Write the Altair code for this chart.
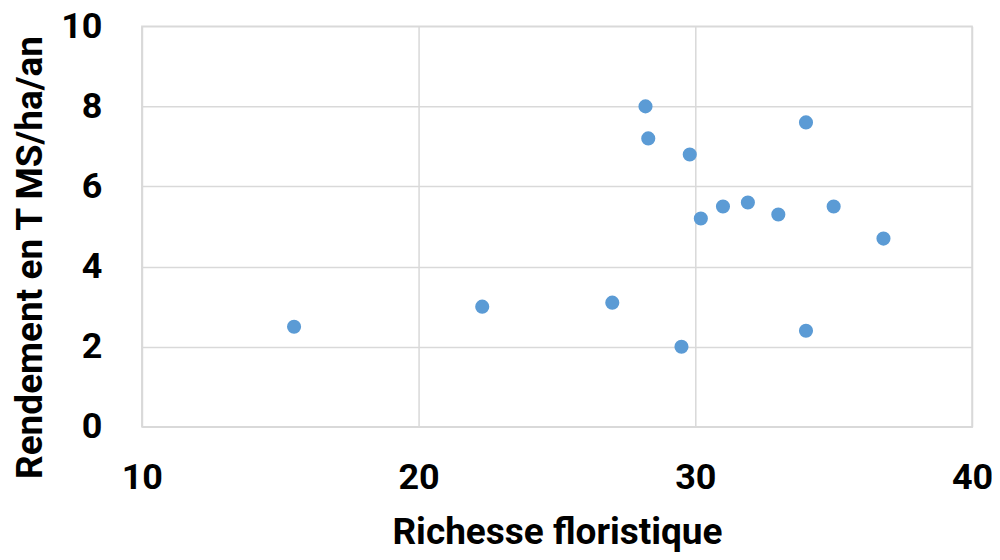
import altair as alt
import pandas as pd

richesse = [15.5, 22.3, 27.0, 29.5, 28.2, 28.3, 29.8, 30.2, 31.0, 31.9, 33.0, 34.0, 35.0, 36.8, 34.0]
rendement = [2.5, 3.0, 3.1, 2.0, 8.0, 7.2, 6.8, 5.2, 5.5, 5.6, 5.3, 7.6, 5.5, 4.7, 2.4]
x_ticks = [10, 20, 30, 40]
y_ticks = [0, 2, 4, 6, 8, 10]

df = pd.DataFrame({"richesse": richesse, "rendement": rendement})

FONT = "Roboto"

chart = alt.Chart(df).mark_circle(size=200, color="#5B9BD5", opacity=1).encode(
    x=alt.X("richesse:Q",
            scale=alt.Scale(domain=[10, 40], nice=False, zero=False),
            axis=alt.Axis(values=x_ticks, title="Richesse floristique",
                          labelPadding=34, titleY=106, titleBaseline="middle")),
    y=alt.Y("rendement:Q",
            scale=alt.Scale(domain=[0, 10], nice=False),
            axis=alt.Axis(values=y_ticks, title="Rendement en T MS/ha/an",
                          labelPadding=40, titleX=-111, titleY=231,
                          titleAngle=270, titleAlign="center", titleBaseline="middle")),
).properties(
    width=831, height=401,
    autosize=alt.AutoSizeParams(type="none"),
    padding={"left": 134, "top": 18, "right": 20, "bottom": 125},
).configure_axis(
    labelFont=FONT, labelFontWeight="bold", labelFontSize=36, labelColor="#000000",
    titleFont=FONT, titleFontWeight="bold", titleFontSize=37, titleColor="#000000",
    ticks=False, domainColor="#D9D9D9", domainWidth=1.5,
    gridColor="#D9D9D9", gridWidth=1.5, labelFlush=False, labelOverlap=False,
).configure_view(stroke="#D9D9D9", strokeWidth=1.5)

chart.save("out.html", embed_options={"renderer": "svg", "actions": False})
